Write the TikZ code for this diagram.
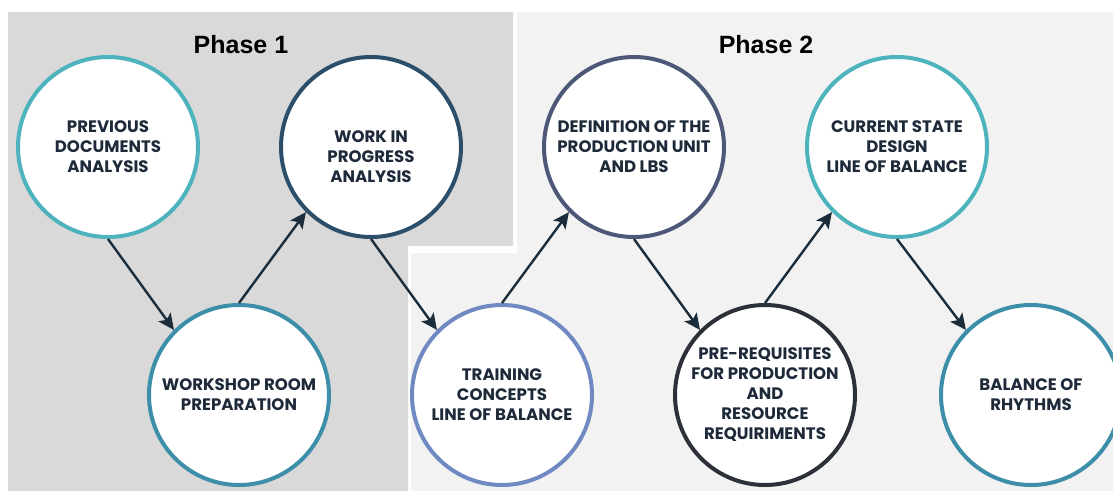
\documentclass[tikz,border=0pt]{standalone}
\usepackage{fontspec}
\newfontfamily\pop{Poppins}
\newfontfamily\ari{Liberation Sans}
\usetikzlibrary{arrows.meta}
\definecolor{bgone}{HTML}{D9D9D9}
\definecolor{bgtwo}{HTML}{F2F2F2}
\definecolor{cteal}{HTML}{4DB3BD}
\definecolor{cblue}{HTML}{3D8EA8}
\definecolor{cnavy}{HTML}{2B4F6A}
\definecolor{cperi}{HTML}{7189C2}
\definecolor{cslate}{HTML}{4D5878}
\definecolor{cdark}{HTML}{2C3139}
\definecolor{arrowc}{HTML}{1B2C3A}
\definecolor{txtc}{HTML}{1E2A3A}
\tikzset{
  bubble/.style={circle, draw=#1, line width=4pt, fill=white, minimum size=180pt, inner sep=0pt},
  btext/.style={text=txtc, font=\pop\bfseries\fontsize{16.6}{20}\selectfont, align=center},
  phasetitle/.style={font=\ari\bfseries\fontsize{25}{30}\selectfont, text=black},
  flow/.style={draw=arrowc, line width=2.4pt, -{Stealth[length=16pt,width=15pt,inset=3.5pt]}}
}
\begin{document}
\begin{tikzpicture}[x=1pt,y=-1pt]
\useasboundingbox (0,0) rectangle (1113,491);
\fill[white] (0,0) rectangle (1113,491);
% phase backgrounds
\fill[bgone] (8,12) -- (513,12) -- (513,246) -- (408,246) -- (408,491) -- (8,491) -- cycle;
\fill[bgtwo] (517,12) -- (1113,12) -- (1113,491) -- (411,491) -- (411,253) -- (517,253) -- cycle;
\node[phasetitle] (p1) at (241,45) {Phase 1};
\node[phasetitle] (p2) at (766,45) {Phase 2};
% circles
\node[bubble=cteal] (c1) at (108,147) {};
\node[bubble=cblue] (c2) at (239,395) {};
\node[bubble=cnavy] (c3) at (371,147) {};
\node[bubble=cperi] (c4) at (502,395) {};
\node[bubble=cslate] (c5) at (634,147) {};
\node[bubble=cdark] (c6) at (765,395) {};
\node[bubble=cteal] (c7) at (897,147) {};
\node[bubble=cblue] (c8) at (1031,395) {};
% texts
\node[btext] (t1) at (108,147) {PREVIOUS\\DOCUMENTS\\ANALYSIS};
\node[btext] (t2) at (239,395) {WORKSHOP ROOM\\PREPARATION};
\node[btext] (t3) at (371,157) {WORK IN\\PROGRESS\\ANALYSIS};
\node[btext] (t4) at (502,395) {TRAINING\\CONCEPTS\\LINE OF BALANCE};
\node[btext] (t5) at (634,147) {DEFINITION OF THE\\PRODUCTION UNIT\\AND LBS};
\node[btext] (t6) at (765,395) {PRE-REQUISITES\\FOR PRODUCTION\\AND\\RESOURCE\\REQUIRIMENTS};
\node[btext] (t7) at (897,147) {CURRENT STATE\\DESIGN\\LINE OF BALANCE};
\node[btext] (t8) at (1031,395) {BALANCE OF\\RHYTHMS};
% arrows
\draw[flow] (c1.south) -- (c2.135);
\draw[flow] (c2.north) -- (c3.225);
\draw[flow] (c3.south) -- (c4.135);
\draw[flow] (c4.north) -- (c5.225);
\draw[flow] (c5.south) -- (c6.135);
\draw[flow] (c6.north) -- (c7.225);
\draw[flow] (c7.south) -- (c8.135);
\end{tikzpicture}
\end{document}
